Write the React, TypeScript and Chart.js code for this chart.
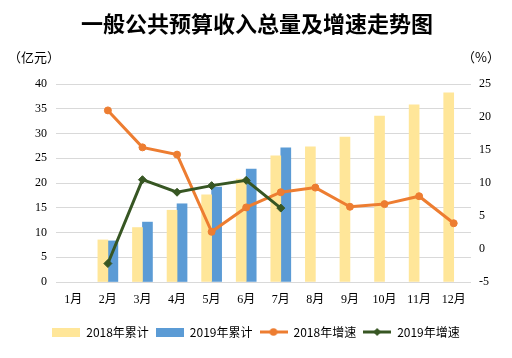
import React, { useEffect, useRef } from 'react';
import { Chart, registerables } from 'chart.js';

Chart.register(...registerables);

const titleText = '一般公共预算收入总量及增速走势图';
const leftUnit = '（亿元）';
const rightUnit = '（%）';

const months = ['1月', '2月', '3月', '4月', '5月', '6月', '7月', '8月', '9月', '10月', '11月', '12月'];
const total2018 = [null, 8.5, 11.0, 14.5, 17.6, 20.8, 25.5, 27.3, 29.3, 33.5, 35.8, 38.2];
const total2019 = [null, 8.3, 12.1, 15.8, 19.2, 22.8, 27.1, null, null, null, null, null];
const growth2018 = [null, 21.0, 15.4, 14.3, 2.6, 6.3, 8.6, 9.3, 6.4, 6.8, 8.0, 3.9];
const growth2019 = [null, -2.2, 10.5, 8.6, 9.6, 10.4, 6.2, null, null, null, null, null];

const seriesNames = ['2018年累计', '2019年累计', '2018年增速', '2019年增速'];
const leftAxis = { min: 0, max: 40, step: 5 };
const rightAxis = { min: -5, max: 25, step: 5 };

const C_BAR18 = '#FFE699';
const C_BAR19 = '#5B9BD5';
const C_LINE18 = '#ED7D31';
const C_LINE19 = '#375623';
const GRID = '#D9D9D9';
const TICK_FONT = { family: '"Liberation Serif", "Noto Sans CJK SC", serif', size: 12 };

function makeBox(color: string) {
  const c = document.createElement('canvas');
  c.width = 28;
  c.height = 9;
  const x = c.getContext('2d')!;
  x.fillStyle = color;
  x.fillRect(0, 0, 28, 9);
  return c;
}

function makeLine(color: string, shape: 'circle' | 'diamond') {
  const c = document.createElement('canvas');
  c.width = 28;
  c.height = 10;
  const x = c.getContext('2d')!;
  x.strokeStyle = color;
  x.lineWidth = 3;
  x.beginPath();
  x.moveTo(0, 5);
  x.lineTo(28, 5);
  x.stroke();
  x.fillStyle = color;
  x.beginPath();
  if (shape === 'circle') {
    x.arc(14, 5, 3.8, 0, Math.PI * 2);
  } else {
    x.moveTo(14, 1);
    x.lineTo(18, 5);
    x.lineTo(14, 9);
    x.lineTo(10, 5);
    x.closePath();
  }
  x.fill();
  return c;
}

const textPlugin = {
  id: 'extraTexts',
  afterDraw(chart: any) {
    const ctx = chart.ctx;
    ctx.save();
    ctx.fillStyle = '#000';
    ctx.textBaseline = 'middle';
    ctx.font = 'bold 22px "Noto Sans CJK SC"';
    ctx.textAlign = 'center';
    ctx.fillText(titleText, chart.width / 2 + 1, 24);
    ctx.font = '13px "Noto Sans CJK SC"';
    ctx.textAlign = 'left';
    ctx.fillText(leftUnit, 8, 57);
    ctx.textAlign = 'right';
    ctx.fillText(rightUnit, 500, 57);
    ctx.restore();
  },
};

export default function App() {
  const ref = useRef<HTMLCanvasElement>(null);

  useEffect(() => {
    if (!ref.current) return;
    const legendImgs = [
      makeBox(C_BAR18),
      makeBox(C_BAR19),
      makeLine(C_LINE18, 'circle'),
      makeLine(C_LINE19, 'diamond'),
    ];
    const chart = new Chart(ref.current, {
      type: 'bar',
      data: {
        labels: months,
        datasets: [
          {
            type: 'bar',
            label: seriesNames[0],
            data: total2018,
            backgroundColor: C_BAR18,
            borderWidth: 0,
            barThickness: 10,
            yAxisID: 'y',
            order: 2,
          },
          {
            type: 'bar',
            label: seriesNames[1],
            data: total2019,
            backgroundColor: C_BAR19,
            borderWidth: 0,
            barThickness: 10,
            yAxisID: 'y',
            order: 3,
          },
          {
            type: 'line',
            label: seriesNames[2],
            data: growth2018,
            borderColor: C_LINE18,
            backgroundColor: C_LINE18,
            borderWidth: 3,
            pointRadius: 3.5,
            pointBorderWidth: 1,
            pointStyle: 'circle',
            yAxisID: 'y1',
            order: 1,
          },
          {
            type: 'line',
            label: seriesNames[3],
            data: growth2019,
            borderColor: C_LINE19,
            backgroundColor: C_LINE19,
            borderWidth: 3,
            pointRadius: 4,
            pointBorderWidth: 1,
            pointStyle: 'rectRot',
            yAxisID: 'y1',
            order: 0,
          },
        ] as any,
      },
      options: {
        animation: false,
        responsive: false,
        maintainAspectRatio: false,
        layout: { padding: { top: 84, bottom: 10, left: 0, right: 0 } },
        plugins: {
          title: { display: false },
          tooltip: { enabled: false },
          legend: {
            display: true,
            position: 'bottom',
            labels: {
              usePointStyle: true,
              pointStyleWidth: 28,
              padding: 7,
              color: '#000',
              font: { family: '"Noto Sans CJK SC", sans-serif', size: 12 },
              sort: (a: any, b: any) => a.datasetIndex - b.datasetIndex,
              generateLabels: (ch: any) => {
                const base = Chart.defaults.plugins.legend.labels.generateLabels(ch);
                return base.map((l: any) => ({ ...l, pointStyle: legendImgs[l.datasetIndex] }));
              },
            },
          },
        },
        scales: {
          x: {
            grid: { display: false, drawTicks: false },
            border: { display: false },
            ticks: { color: '#000', font: TICK_FONT, padding: 11, maxRotation: 0, autoSkip: false },
            afterFit: (s: any) => {
              s.height = 37;
            },
          },
          y: {
            position: 'left',
            min: leftAxis.min,
            max: leftAxis.max,
            ticks: { stepSize: leftAxis.step, color: '#000', font: TICK_FONT, padding: 9 },
            grid: { color: GRID, lineWidth: 1, drawTicks: false },
            border: { display: false },
            afterFit: (s: any) => {
              s.width = 56;
            },
          },
          y1: {
            position: 'right',
            min: rightAxis.min,
            max: rightAxis.max,
            ticks: { stepSize: rightAxis.step, color: '#000', font: TICK_FONT, padding: 8 },
            grid: { drawOnChartArea: false, drawTicks: false },
            border: { display: false },
            afterFit: (s: any) => {
              s.width = 41;
            },
          },
        },
      } as any,
      plugins: [textPlugin],
    });
    return () => chart.destroy();
  }, []);

  return (
    <div style={{ position: 'fixed', left: 0, top: 0, width: 512, height: 358, background: '#fff' }}>
      <canvas ref={ref} width={512} height={358} style={{ width: 512, height: 358, display: 'block' }} />
    </div>
  );
}
